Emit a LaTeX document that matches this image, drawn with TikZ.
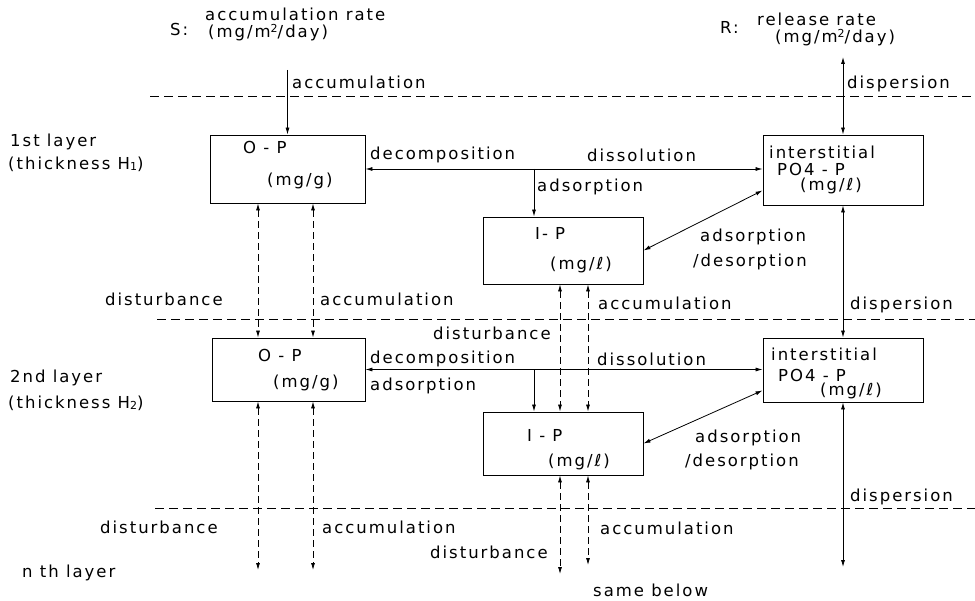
\documentclass[tikz,border=0pt]{standalone}
\usepackage{fontspec}
\setmainfont{DejaVu Sans}[LetterSpace=12]
\usetikzlibrary{arrows.meta,calc}
\newcommand{\supt}[1]{\raisebox{0.55ex}{\fontsize{11}{11}\selectfont #1}}
\newcommand{\subt}[1]{\raisebox{-0.2ex}{\fontsize{11}{11}\selectfont #1}}
\begin{document}
\begin{tikzpicture}[x=1pt,y=-1pt,
  font=\fontsize{16.5}{19}\selectfont,
  box/.style={draw, line width=0.9pt, inner sep=0pt},
  lbl/.style={anchor=west, inner sep=0pt},
  conn/.style={line width=0.8pt},
  dconn/.style={line width=0.8pt, dash pattern=on 7pt off 4pt},
  layerline/.style={line width=0.9pt, dash pattern=on 9pt off 5pt},
  bi/.style={{Latex[length=7pt,width=4pt]}-{Latex[length=7pt,width=4pt]}},
  one/.style={-{Latex[length=7pt,width=4pt]}}]
\useasboundingbox (0,0) rectangle (975,601);

% boxes
\node[box, minimum width=155, minimum height=68] (op1) at (287.5,169) {};
\node[box, minimum width=153, minimum height=63] (op2) at (288.5,369.5) {};
\node[box, minimum width=160, minimum height=67] (ip1) at (563,250.5) {};
\node[box, minimum width=160, minimum height=63] (ip2) at (563,443.5) {};
\node[box, minimum width=160, minimum height=70] (in1) at (843,170) {};
\node[box, minimum width=160, minimum height=64] (in2) at (843,370) {};

% layer boundaries
\draw[layerline] (150,96) -- (975,96);
\draw[layerline] (157,319) -- (975,319);
\draw[layerline] (155,508) -- (975,508);

% helper coordinates
\coordinate (sTop) at (287.5,70);
\coordinate (rTop) at (843,57);
\coordinate (xa) at (258,0);
\coordinate (xb) at (313,0);
\coordinate (xc) at (560,0);
\coordinate (xd) at (588,0);
\coordinate (j1) at (534,169);
\coordinate (j2) at (534,370);
\coordinate (d1) at ($(in1.south west)+(0,-15)$);
\coordinate (d2) at ($(in2.south west)+(0,-12)$);
\coordinate (ea) at (258,570);
\coordinate (eb) at (313,570);
\coordinate (ec) at (560,574);
\coordinate (ed) at (588,565);
\coordinate (ee) at (843,567);

% layer 1 connectors
\draw[conn,one] (sTop) -- (op1.north);
\draw[conn,bi] (in1.north) -- (rTop);
\draw[conn,bi] (op1.east) -- (op1.east -| in1.west);
\draw[conn,one] (j1) -- (j1 |- ip1.north);
\draw[conn,bi] (ip1.east) -- (d1);
\draw[dconn,bi] (xa |- op1.south) -- (xa |- op2.north);
\draw[dconn,bi] (xb |- op1.south) -- (xb |- op2.north);
\draw[dconn,bi] (xc |- ip1.south) -- (xc |- ip2.north);
\draw[dconn,bi] (xd |- ip1.south) -- (xd |- ip2.north);
\draw[conn,bi] (in1.south) -- (in2.north);

% layer 2 connectors
\draw[conn,bi] (op2.east) -- (op2.east -| in2.west);
\draw[conn,one] (j2) -- (j2 |- ip2.north);
\draw[conn,bi] (ip2.east) -- (d2);
\draw[dconn,bi] (xa |- op2.south) -- (ea);
\draw[dconn,bi] (xb |- op2.south) -- (eb);
\draw[dconn,bi] (xc |- ip2.south) -- (ec);
\draw[dconn,bi] (xd |- ip2.south) -- (ed);
\draw[conn,bi] (in2.south) -- (ee);

% top labels
\node[lbl] (t1) at (205,14) {accumulation rate};
\node[lbl] (t2) at (170,29) {S:};
\node[lbl] (t3) at (208,33) {(mg/m\supt{2}/day)};
\node[lbl] (t4) at (720,27) {R:};
\node[lbl] (t5) at (757,19) {release rate};
\node[lbl] (t6) at (775,38) {(mg/m\supt{2}/day)};
\node[lbl] (t7) at (292,82) {accumulation};
\node[lbl] (t8) at (847,84) {dispersion};

% layer 1 labels
\node[lbl] (l1a) at (10,142) {1st layer};
\node[lbl] (l1b) at (8,164) {(thickness H\subt{1})};
\node[lbl] (o1a) at (243,147) {O - P};
\node[lbl] (o1b) at (267,181) {(mg/g)};
\node[lbl] (dc1) at (370,155) {decomposition};
\node[lbl] (ds1) at (587,155) {dissolution};
\node[lbl] (ad1) at (537,187) {adsorption};
\node[lbl] (n1a) at (769,152) {interstitial};
\node[lbl] (n1b) at (777,169) {PO4 - P};
\node[lbl] (n1c) at (800,186) {(mg/ℓ)};
\node[lbl] (i1a) at (535,233) {I- P};
\node[lbl] (i1b) at (550,265) {(mg/ℓ)};
\node[lbl] (ag1) at (700,237) {adsorption};
\node[lbl] (ag2) at (693,262) {/desorption};
\node[lbl] (db1) at (105,299) {disturbance};
\node[lbl] (ac1) at (320,299) {accumulation};
\node[lbl] (ac2) at (598,303) {accumulation};
\node[lbl] (dp1) at (850,305) {dispersion};
\node[lbl] (db2) at (433,333) {disturbance};

% layer 2 labels
\node[lbl] (l2a) at (10,378) {2nd layer};
\node[lbl] (l2b) at (8,403) {(thickness H\subt{2})};
\node[lbl] (o2a) at (258,355) {O - P};
\node[lbl] (o2b) at (273,383) {(mg/g)};
\node[lbl] (dc2) at (370,359) {decomposition};
\node[lbl] (ad2) at (370,386) {adsorption};
\node[lbl] (ds2) at (597,359) {dissolution};
\node[lbl] (n2a) at (771,354) {interstitial};
\node[lbl] (n2b) at (778,375) {PO4 - P};
\node[lbl] (n2c) at (820,391) {(mg/ℓ)};
\node[lbl] (i2a) at (527,435) {I - P};
\node[lbl] (i2b) at (548,462) {(mg/ℓ)};
\node[lbl] (ag3) at (695,438) {adsorption};
\node[lbl] (ag4) at (685,462) {/desorption};
\node[lbl] (dp2) at (850,497) {dispersion};
\node[lbl] (db3) at (100,527) {disturbance};
\node[lbl] (ac3) at (322,527) {accumulation};
\node[lbl] (ac4) at (600,528) {accumulation};
\node[lbl] (db4) at (430,552) {disturbance};
\node[lbl] (nth) at (22,573) {n th layer};
\node[lbl] (sb) at (593,590) {same below};
\end{tikzpicture}
\end{document}
